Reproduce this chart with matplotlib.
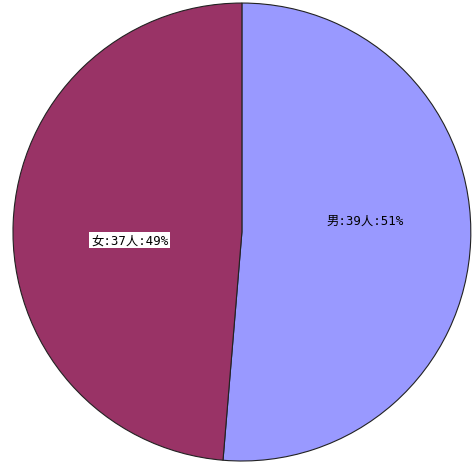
import numpy as np
import matplotlib
matplotlib.use("Agg")
import matplotlib.pyplot as plt

plt.rcParams['font.family'] = ['DejaVu Sans Mono', 'Noto Sans CJK SC']

labels = ['男', '女']
counts = [39, 37]
colors = ['#9999FF', '#993366']

total = sum(counts)
pcts = [round(c * 100 / total) for c in counts]

fig = plt.figure(figsize=(4.72, 4.64), dpi=100)
ax = fig.add_axes([0.0275, 0.0043, 0.970, 0.987])

wedges, _ = ax.pie(counts, colors=colors, startangle=90, counterclock=False,
                   wedgeprops=dict(edgecolor='#222222', linewidth=0.8))
ax.set_xlim(-1, 1)
ax.set_ylim(-1, 1)
ax.set_aspect('auto')

# label offsets inside each wedge
offsets = [(0.54, 0.05), (-0.49, -0.035)]
boxed = [False, True]
for name, n, p, (x, y), b in zip(labels, counts, pcts, offsets, boxed):
    txt = f"{name}:{n}人:{p}%"
    kw = dict(ha='center', va='center', fontsize=8.9, color='black')
    if b:
        kw['bbox'] = dict(facecolor='white', edgecolor='none', pad=1.3)
    ax.text(x, y, txt, **kw)

fig.savefig('out.png', dpi=100)
